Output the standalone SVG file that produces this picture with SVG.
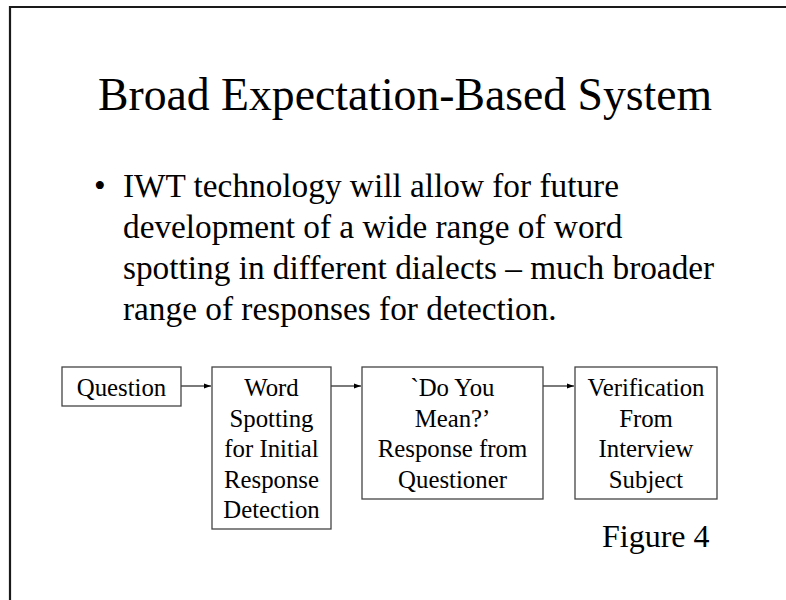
<svg xmlns="http://www.w3.org/2000/svg" width="786" height="600" viewBox="0 0 786 600">
<defs>
<style>
.t{font-family:"Liberation Serif","Times New Roman",serif;fill:#000}
.title{font-size:45.7px}
.body{font-size:33.3px}
.box{fill:#fff;stroke:#444;stroke-width:1.3}
.lbl{font-size:24.8px;text-anchor:middle}
.conn{stroke:#222;stroke-width:1.2;fill:none}
</style>
<marker id="ah" viewBox="0 0 10 10" refX="10" refY="5" markerWidth="7" markerHeight="7" markerUnits="userSpaceOnUse" orient="auto">
<path d="M0,1.5 L10,5 L0,8.5 Z" fill="#000"/>
</marker>
</defs>
<rect width="786" height="600" fill="#fff"/>
<path d="M10,600 V7 H786" fill="none" stroke="#1a1a1a" stroke-width="2.2"/>
<text class="t title" x="98" y="110">Broad Expectation-Based System</text>
<g id="bullet">
<text class="t body" x="94" y="197">•</text>
<text class="t body" x="123" y="197">IWT technology will allow for future</text>
<text class="t body" x="123" y="238">development of a wide range of word</text>
<text class="t body" x="123" y="279">spotting in different dialects – much broader</text>
<text class="t body" x="123" y="320">range of responses for detection.</text>
</g>
<g id="connectors">
<line class="conn" x1="181" y1="386" x2="211" y2="386" marker-end="url(#ah)"/>
<line class="conn" x1="331" y1="386" x2="361" y2="386" marker-end="url(#ah)"/>
<line class="conn" x1="543" y1="386" x2="574" y2="386" marker-end="url(#ah)"/>
</g>
<g id="question">
<rect class="box" x="62" y="367" width="119" height="39"/>
<text class="t lbl" x="121.5" y="396">Question</text>
</g>
<g id="word-spotting">
<rect class="box" x="212" y="367" width="119" height="162"/>
<text class="t lbl" x="271.5" y="396">Word</text>
<text class="t lbl" x="271.5" y="426.5">Spotting</text>
<text class="t lbl" x="271.5" y="457">for Initial</text>
<text class="t lbl" x="271.5" y="487.5">Response</text>
<text class="t lbl" x="271.5" y="518">Detection</text>
</g>
<g id="do-you-mean">
<rect class="box" x="362" y="367" width="181" height="132"/>
<text class="t lbl" x="452.5" y="396">`Do You</text>
<text class="t lbl" x="452.5" y="426.5">Mean?’</text>
<text class="t lbl" x="452.5" y="457">Response from</text>
<text class="t lbl" x="452.5" y="487.5">Questioner</text>
</g>
<g id="verification">
<rect class="box" x="575" y="367" width="142" height="132"/>
<text class="t lbl" x="646" y="396">Verification</text>
<text class="t lbl" x="646" y="426.5">From</text>
<text class="t lbl" x="646" y="457">Interview</text>
<text class="t lbl" x="646" y="487.5">Subject</text>
</g>
<text class="t" x="602" y="547" style="font-size:32px">Figure 4</text>
</svg>
